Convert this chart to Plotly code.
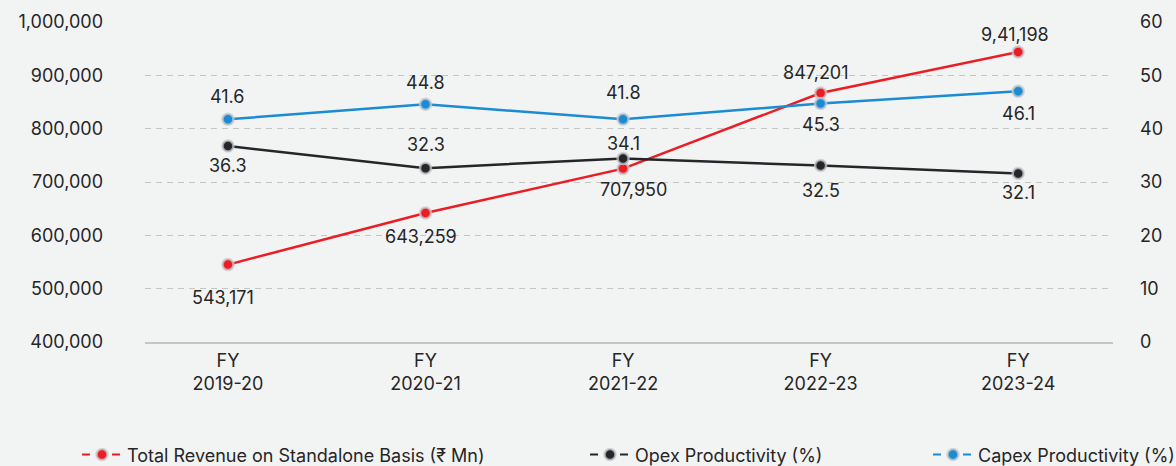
import plotly.graph_objects as go

# ---- data ----
categories = ["FY<br>2019-20", "FY<br>2020-21", "FY<br>2021-22", "FY<br>2022-23", "FY<br>2023-24"]
revenue = [545100, 641900, 725100, 866800, 943700]
revenue_labels = ["543,171", "643,259", "707,950", "847,201", "9,41,198"]
opex = [36.75, 32.6, 34.4, 33.1, 31.6]
opex_labels = ["36.3", "32.3", "34.1", "32.5", "32.1"]
capex = [41.76, 44.57, 41.76, 44.7, 47.0]
capex_labels = ["41.6", "44.8", "41.8", "45.3", "46.1"]
left_ticks = [400000, 500000, 600000, 700000, 800000, 900000, 1000000]
right_ticks = [0, 10, 20, 30, 40, 50, 60]

# ---- style ----
RED = "#ec1c24"
BLACK = "#24262a"
BLUE = "#1b8bd3"
BG = "#f2f3f3"
GRID = "#c4c6c6"
TXT = "#262626"
FONT = "Inter, Roboto, sans-serif"
FS = 18
HALO = "rgba(200,202,204,0.75)"

# label offsets in px (style only)
rev_shift = [(-5, -33), (-5, -24), (10, -21), (-5, 21), (-3, 18)]
opex_shift = [(0, -19), (0, 24), (0, 15), (0, -25), (0, -19)]
capex_shift = [(0, 23), (0, 22), (0, 27), (0, -21), (0, -22)]

xs = list(range(len(categories)))

fig = go.Figure()

series = [
    ("Total Revenue on Standalone Basis (₹ Mn)", revenue, RED, "y", "legend"),
    ("Opex Productivity (%)", opex, BLACK, "y2", "legend2"),
    ("Capex Productivity (%)", capex, BLUE, "y2", "legend3"),
]

for name, vals, col, yax, _ in series:
    fig.add_trace(go.Scatter(
        x=xs, y=vals, mode="lines+markers", name=name, yaxis=yax,
        line=dict(color=col, width=2.5),
        marker=dict(size=11, color=col, line=dict(color=HALO, width=2.5)),
        showlegend=False, hoverinfo="skip",
    ))

# legend-only entries (dash-dot-dash symbol like reference)
for name, vals, col, yax, leg in series:
    fig.add_trace(go.Scatter(
        x=[None], y=[None], mode="lines+markers", name=name, yaxis=yax,
        line=dict(color=col, width=2, dash="8px,22px"),
        marker=dict(size=11, color=col, line=dict(color=HALO, width=2.5)),
        showlegend=True, legend=leg,
    ))

annotations = []
for vals, labels, shifts, yref in [
    (revenue, revenue_labels, rev_shift, "y"),
    (opex, opex_labels, opex_shift, "y2"),
    (capex, capex_labels, capex_shift, "y2"),
]:
    for i, (v, lab) in enumerate(zip(vals, labels)):
        annotations.append(dict(
            x=xs[i], y=v, xref="x", yref=yref, text=lab, showarrow=False,
            xshift=shifts[i][0], yshift=shifts[i][1],
            font=dict(family=FONT, size=FS, color=TXT),
        ))

legend_common = dict(
    orientation="h", yanchor="middle", y=0.024, xanchor="left",
    xref="container", yref="container", itemwidth=40,
    font=dict(family=FONT, size=FS, color=TXT), bgcolor="rgba(0,0,0,0)",
)

fig.update_layout(
    width=1176, height=466,
    margin=dict(l=145, r=63, t=22, b=124, autoexpand=False),
    paper_bgcolor=BG, plot_bgcolor=BG,
    font=dict(family=FONT, size=FS, color=TXT),
    annotations=annotations,
    legend=dict(x=77 / 1176, **legend_common),
    legend2=dict(x=585 / 1176, **legend_common),
    legend3=dict(x=928 / 1176, **legend_common),
    xaxis=dict(
        range=[-0.42, 4.48], tickmode="array", tickvals=xs, ticktext=categories,
        showgrid=False, zeroline=False, showline=True, linecolor=GRID, linewidth=2,
        ticks="", ticklabelstandoff=1, automargin=False,
        tickfont=dict(family=FONT, size=FS, color=TXT),
    ),
    yaxis=dict(
        range=[400000, 1000000], tickvals=left_ticks, tickformat=",",
        showgrid=True, gridcolor=GRID, griddash="6px,5px", gridwidth=1,
        zeroline=False, showline=False, ticks="", ticklabelstandoff=41,
        automargin=False,
        tickfont=dict(family=FONT, size=FS, color=TXT),
    ),
    yaxis2=dict(
        range=[0, 60], tickvals=right_ticks, overlaying="y", side="right",
        showgrid=False, zeroline=False, showline=False, ticks="", ticklabelstandoff=26,
        automargin=False,
        tickfont=dict(family=FONT, size=FS, color=TXT),
    ),
)

fig.write_html(
    "out.html",
    config={"displayModeBar": False},
    post_script="document.body.style.margin='0';",
)
